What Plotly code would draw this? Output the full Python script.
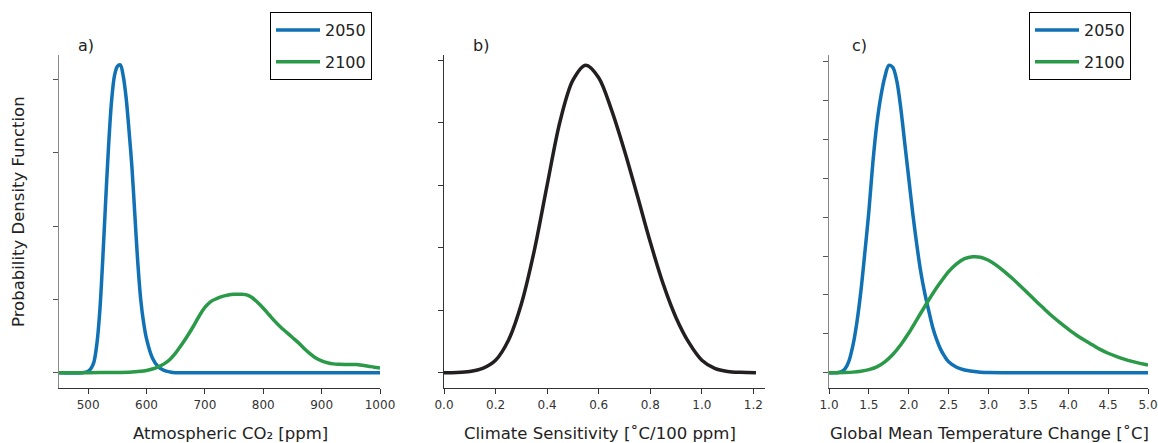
import plotly.graph_objects as go

# relative density values, read in units of the (unlabelled) y tick spacing

# panel a: atmospheric CO2 [ppm]
co2_x_2050 = [450, 490, 500, 505, 510, 515, 520, 525, 530, 535, 540, 545, 550, 555, 560, 565, 570,
              575, 580, 585, 590, 595, 600, 610, 620, 630, 640, 650, 700, 1000]
co2_pdf_2050 = [0, 0, 0.02, 0.06, 0.15, 0.4, 0.85, 1.55, 2.35, 3.1, 3.7, 4.05, 4.18, 4.2, 4.05, 3.75,
                3.3, 2.8, 2.15, 1.5, 1.0, 0.68, 0.46, 0.2, 0.08, 0.03, 0.01, 0, 0, 0]
co2_x_2100 = [450, 500, 550, 570, 590, 600, 610, 620, 630, 640, 650, 660, 670, 680, 690, 700, 710,
              720, 730, 740, 750, 760, 770, 780, 790, 800, 810, 820, 830, 840, 850, 860, 870, 880,
              890, 900, 910, 920, 930, 940, 950, 960, 970, 980, 990, 1000]
co2_pdf_2100 = [0, 0, 0.003, 0.006, 0.018, 0.03, 0.05, 0.08, 0.12, 0.18, 0.27, 0.38, 0.5, 0.63, 0.77,
                0.89, 0.97, 1.01, 1.04, 1.06, 1.07, 1.07, 1.065, 1.03, 0.96, 0.88, 0.79, 0.7, 0.62,
                0.55, 0.48, 0.41, 0.33, 0.26, 0.2, 0.16, 0.135, 0.12, 0.115, 0.113, 0.113, 0.112,
                0.1, 0.088, 0.075, 0.065]

# panel b: climate sensitivity [degC / 100 ppm]
cs_x = [0, 0.05, 0.1, 0.15, 0.2, 0.25, 0.3, 0.35, 0.4, 0.45, 0.5, 0.55, 0.6, 0.65, 0.7, 0.75, 0.8,
        0.85, 0.9, 0.95, 1.0, 1.05, 1.1, 1.15, 1.21]
cs_pdf = [0, 0.003, 0.02, 0.07, 0.2, 0.52, 1.1, 1.95, 3.0, 4.02, 4.68, 4.92, 4.72, 4.2, 3.55, 2.83,
          2.09, 1.42, 0.88, 0.48, 0.2, 0.07, 0.02, 0.005, 0]

# panel c: global mean temperature change [degC]
dt_x_2050 = [1.0, 1.1, 1.15, 1.2, 1.25, 1.3, 1.35, 1.4, 1.45, 1.5, 1.55, 1.6, 1.65, 1.7, 1.75, 1.8,
             1.85, 1.9, 1.95, 2.0, 2.05, 2.1, 2.15, 2.2, 2.25, 2.3, 2.35, 2.4, 2.45, 2.5, 2.6, 2.7,
             2.8, 2.9, 3.0, 5.0]
dt_pdf_2050 = [0, 0, 0.02, 0.1, 0.3, 0.7, 1.3, 2.1, 3.1, 4.15, 5.4, 6.4, 7.1, 7.6, 7.9, 7.85, 7.5,
               6.8, 5.9, 5.0, 4.1, 3.3, 2.6, 2.05, 1.6, 1.17, 0.85, 0.6, 0.42, 0.28, 0.14, 0.07,
               0.035, 0.012, 0.003, 0]
dt_x_2100 = [1.0, 1.2, 1.3, 1.4, 1.5, 1.6, 1.7, 1.8, 1.9, 2.0, 2.1, 2.2, 2.3, 2.4, 2.5, 2.6, 2.7,
             2.8, 2.9, 3.0, 3.1, 3.2, 3.3, 3.4, 3.5, 3.6, 3.7, 3.8, 3.9, 4.0, 4.1, 4.2, 4.3, 4.4,
             4.5, 4.6, 4.7, 4.8, 4.9, 5.0]
dt_pdf_2100 = [0, 0.005, 0.015, 0.04, 0.08, 0.15, 0.28, 0.47, 0.72, 1.02, 1.36, 1.7, 2.03, 2.33,
               2.6, 2.8, 2.93, 2.98, 2.97, 2.89, 2.76, 2.6, 2.42, 2.23, 2.03, 1.83, 1.64, 1.45,
               1.28, 1.12, 0.97, 0.84, 0.72, 0.6, 0.5, 0.42, 0.35, 0.29, 0.24, 0.2]

BLUE = "#1071b5"
GREEN = "#2b9a48"
DARK = "#231f20"
FONT = "DejaVu Sans"
W, H = 1158, 443

fig = go.Figure()

def line(x, y, color, name, xa, ya, legend=None, show=False):
    fig.add_trace(go.Scatter(
        x=x, y=y, mode="lines", name=name,
        line=dict(color=color, width=3.5, shape="spline", smoothing=0.9),
        xaxis=xa, yaxis=ya, showlegend=show, legend=legend,
        legendgroup=f"{legend}{name}", hoverinfo="skip"))

line(co2_x_2050, co2_pdf_2050, BLUE, "2050", "x", "y", "legend", True)
line(co2_x_2100, co2_pdf_2100, GREEN, "2100", "x", "y", "legend", True)
line(cs_x, cs_pdf, DARK, "cs", "x2", "y2")
line(dt_x_2050, dt_pdf_2050, BLUE, "2050", "x3", "y3", "legend2", True)
line(dt_x_2100, dt_pdf_2100, GREEN, "2100", "x3", "y3", "legend2", True)

def px(a, b):
    return [a / W, b / W]

ydom = [1 - 388 / H, 1 - 55 / H]

xcommon = dict(showgrid=False, zeroline=False, showline=True, linecolor="#333", linewidth=1.2,
               ticks="outside", ticklen=5, tickcolor="#333",
               tickfont=dict(family=FONT, size=12, color="#333"))
ycommon = dict(showgrid=False, zeroline=False, showline=True, linewidth=1.2,
               ticks="outside", ticklen=5, showticklabels=False)

legend_style = dict(y=1 - 12 / H, xanchor="left", yanchor="top", bordercolor="black",
                    borderwidth=1, bgcolor="white", font=dict(family=FONT, size=16, color="#222"),
                    itemwidth=44, tracegroupgap=8, traceorder="grouped")

fig.update_layout(
    width=W, height=H,
    margin=dict(l=0, r=0, t=0, b=0, autoexpand=False),
    plot_bgcolor="white", paper_bgcolor="white",
    font=dict(family=FONT, color="#222"),
    xaxis=dict(xcommon, domain=px(59, 380), range=[450, 1000], tickvals=[500, 600, 700, 800, 900, 1000],
               anchor="y"),
    yaxis=dict(ycommon, domain=ydom, range=[-0.209, 4.334], tickvals=[0, 1, 2, 3, 4],
               linecolor="#888", tickcolor="#555", anchor="x"),
    xaxis2=dict(xcommon, domain=px(444, 765), range=[0, 1.245],
                tickvals=[0, 0.2, 0.4, 0.6, 0.8, 1.0, 1.2], ticktext=["0.0", "0.2", "0.4", "0.6", "0.8", "1.0", "1.2"],
                anchor="y2"),
    yaxis2=dict(ycommon, domain=ydom, range=[-0.245, 5.083], tickvals=[0, 1, 2, 3, 4, 5],
                linecolor="#333", tickcolor="#333", anchor="x2"),
    xaxis3=dict(xcommon, domain=px(829, 1148), range=[1, 5],
                tickvals=[1, 1.5, 2, 2.5, 3, 3.5, 4, 4.5, 5],
                ticktext=["1.0", "1.5", "2.0", "2.5", "3.0", "3.5", "4.0", "4.5", "5.0"], anchor="y3"),
    yaxis3=dict(ycommon, domain=ydom, range=[-0.393, 8.167], tickvals=[0, 1, 2, 3, 4, 5, 6, 7, 8],
                linecolor="#888", tickcolor="#555", anchor="x3"),
    legend=dict(legend_style, x=270 / W),
    legend2=dict(legend_style, x=1029 / W),
)

# axis titles and panel labels
texts = [
    ("Atmospheric CO₂ [ppm]", 230, 433, 0, 16.5),
    ("Climate Sensitivity [˚C/100 ppm]", 600, 433, 0, 16.5),
    ("Global Mean Temperature Change [˚C]", 989, 433, 0, 16.5),
    ("Probability Density Function", 18, 212, -90, 16.5),
    ("a)", 86, 45, 0, 16),
    ("b)", 481, 45, 0, 16),
    ("c)", 859, 45, 0, 16),
]
for t, x, y, ang, size in texts:
    fig.add_annotation(text=t, x=x / W, y=1 - y / H, xref="paper", yref="paper",
                       showarrow=False, textangle=ang, xanchor="center", yanchor="middle",
                       font=dict(family=FONT, size=size, color="#222"))

fig.write_html("out.html", config={"displayModeBar": False},
               post_script="document.body.style.margin='0';")
